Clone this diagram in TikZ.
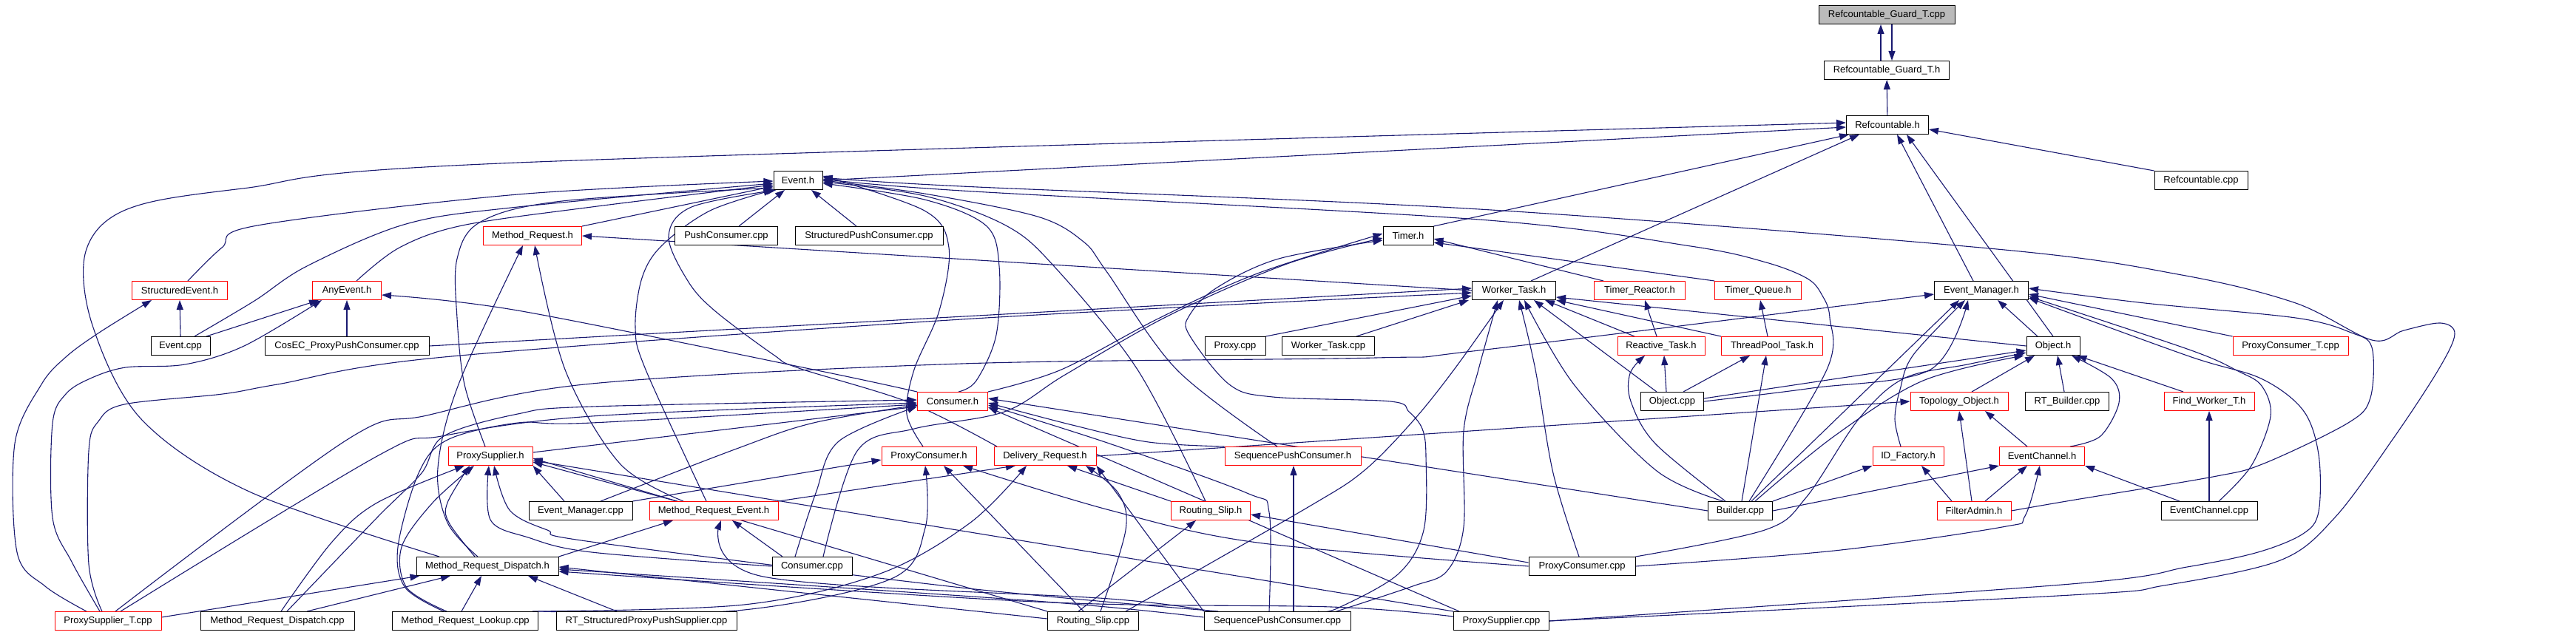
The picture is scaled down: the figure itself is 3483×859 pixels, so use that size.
\documentclass[tikz,border=0pt]{standalone}
\usepackage{fontspec}
\setmainfont{Liberation Sans}
\usetikzlibrary{arrows.meta}
\definecolor{edgecol}{HTML}{191970}
\pgfdeclarelayer{bg}
\pgfsetlayers{bg,main}
\begin{document}
\begin{tikzpicture}[x=1pt,y=-1pt,
  box/.style={draw=black, fill=white, line width=1pt, minimum height=25pt, inner sep=0pt, font=\fontsize{13}{15}\selectfont},
  rbox/.style={box, draw=red},
  gbox/.style={box, fill=black!27},
  edge/.style={draw=edgecol, line width=1.1pt, -{Triangle[length=13pt,width=9pt]}},
  sm/.style={smooth, tension=0.55}
]
\useasboundingbox (0,0) rectangle (3483,859);
% ---------------- nodes ----------------
\node[gbox, minimum width=184pt] (RGTcpp) at (2551,20) {Refcountable\_Guard\_T.cpp};
\node[box, minimum width=169pt] (RGTh) at (2551,95) {Refcountable\_Guard\_T.h};
\node[box, minimum width=111pt] (Refh) at (2552,169) {Refcountable.h};
\node[box, minimum width=66pt] (Eventh) at (1079,244) {Event.h};
\node[box, minimum width=126pt] (Refcpp) at (2976,244) {Refcountable.cpp};
\node[rbox, minimum width=133pt] (MRh) at (720,319) {Method\_Request.h};
\node[box, minimum width=139pt] (PushCcpp) at (982,319) {PushConsumer.cpp};
\node[box, minimum width=200pt] (StPCcpp) at (1175,319) {StructuredPushConsumer.cpp};
\node[box, minimum width=68pt] (Timerh) at (1904,319) {Timer.h};
\node[rbox, minimum width=129pt] (SEh) at (243,393) {StructuredEvent.h};
\node[rbox, minimum width=93pt] (AEh) at (469,393) {AnyEvent.h};
\node[box, minimum width=113pt] (WTh) at (2047,393) {Worker\_Task.h};
\node[rbox, minimum width=123pt] (TRh) at (2217,393) {Timer\_Reactor.h};
\node[rbox, minimum width=117pt] (TQh) at (2377,393) {Timer\_Queue.h};
\node[box, minimum width=127pt] (EMh) at (2679,393) {Event\_Manager.h};
\node[rbox, minimum width=156pt] (PCTcpp) at (3097,468) {ProxyConsumer\_T.cpp};
\node[box, minimum width=80pt] (Eventcpp) at (244,468) {Event.cpp};
\node[box, minimum width=222pt] (CosEC) at (469,468) {CosEC\_ProxyPushConsumer.cpp};
\node[box, minimum width=82pt] (Proxycpp) at (1670,468) {Proxy.cpp};
\node[box, minimum width=125pt] (WTcpp) at (1796,468) {Worker\_Task.cpp};
\node[rbox, minimum width=118pt] (RTh) at (2246,468) {Reactive\_Task.h};
\node[rbox, minimum width=137pt] (TPTh) at (2396,468) {ThreadPool\_Task.h};
\node[box, minimum width=72pt] (Objh) at (2776,468) {Object.h};
\node[rbox, minimum width=95pt] (Consh) at (1288,543) {Consumer.h};
\node[box, minimum width=85pt] (Objcpp) at (2261,543) {Object.cpp};
\node[rbox, minimum width=132pt] (TOh) at (2649,543) {Topology\_Object.h};
\node[box, minimum width=113pt] (RTBcpp) at (2795,543) {RT\_Builder.cpp};
\node[rbox, minimum width=122pt] (FWTh) at (2987,543) {Find\_Worker\_T.h};
\node[rbox, minimum width=114pt] (PSh) at (663,617) {ProxySupplier.h};
\node[rbox, minimum width=128pt] (PCh) at (1256,617) {ProxyConsumer.h};
\node[rbox, minimum width=138pt] (DRh) at (1413,617) {Delivery\_Request.h};
\node[rbox, minimum width=184pt] (SPCh) at (1748,617) {SequencePushConsumer.h};
\node[rbox, minimum width=96pt] (IDFh) at (2580,617) {ID\_Factory.h};
\node[rbox, minimum width=115pt] (ECh) at (2761,617) {EventChannel.h};
\node[box, minimum width=140pt] (EMcpp) at (785,691) {Event\_Manager.cpp};
\node[rbox, minimum width=174pt] (MREh) at (965,691) {Method\_Request\_Event.h};
\node[rbox, minimum width=107pt] (RSh) at (1637,691) {Routing\_Slip.h};
\node[box, minimum width=87pt] (Buildcpp) at (2353,691) {Builder.cpp};
\node[rbox, minimum width=100pt] (FAh) at (2669,691) {FilterAdmin.h};
\node[box, minimum width=130pt] (ECcpp) at (2987,691) {EventChannel.cpp};
\node[box, minimum width=192pt] (MRDh) at (659,766) {Method\_Request\_Dispatch.h};
\node[box, minimum width=108pt] (Conscpp) at (1098,766) {Consumer.cpp};
\node[box, minimum width=144pt] (PCcpp) at (2139,766) {ProxyConsumer.cpp};
\node[rbox, minimum width=144pt] (PSTcpp) at (146,840) {ProxySupplier\_T.cpp};
\node[box, minimum width=208pt] (MRDcpp) at (375,840) {Method\_Request\_Dispatch.cpp};
\node[box, minimum width=197pt] (MRLcpp) at (629,840) {Method\_Request\_Lookup.cpp};
\node[box, minimum width=244pt] (RTSPPS) at (874,840) {RT\_StructuredProxyPushSupplier.cpp};
\node[box, minimum width=123pt] (RScpp) at (1478,840) {Routing\_Slip.cpp};
\node[box, minimum width=198pt] (SPCcpp) at (1727,840) {SequencePushConsumer.cpp};
\node[box, minimum width=129pt] (PScpp) at (2030,840) {ProxySupplier.cpp};
% ---------------- edges ----------------
\begin{pgfonlayer}{bg}
% top
\draw[edge] ([xshift=-8pt]RGTh.north) -- ([xshift=-8pt]RGTcpp.south);
\draw[edge] ([xshift=7pt]RGTcpp.south) -- ([xshift=7pt]RGTh.north);
\draw[edge] (Refh) -- (RGTh);
% into Refcountable.h
\draw[edge] (Eventh.east) -- ([yshift=-3pt]Refh.west);
\draw[edge] plot[sm] coordinates {([xshift=-65pt]MRDh.north) (337,665) (191,567) (125,440) (116,340) (172,283) (328,255) (700,220) ([yshift=3pt]Refh.west)};
\draw[edge] (Timerh.north east) -- ([xshift=4pt]Refh.south west);
\draw[edge] ([xshift=23pt]WTh.north) -- ([xshift=-38pt]Refh.south);
\draw[edge] ([xshift=-11pt]EMh.north) -- ([xshift=13pt]Refh.south);
\draw[edge] (Objh.north) -- ([xshift=26pt]Refh.south);
\draw[edge] (Refcpp.north west) -- ([yshift=-6pt]Refh.east);
% into Event.h
\draw[edge] plot[sm] coordinates {([xshift=11pt]SEh.north) (300,335) (348,305) (700,263) ([yshift=-1pt]Eventh.west)};
\draw[edge] plot[sm] coordinates {([xshift=19pt]Eventcpp.north) (344,407) (415,360) (549,303) (700,280) ([yshift=-4pt]Eventh.west)};
\draw[edge] plot[sm] coordinates {([xshift=13pt]AEh.north) (540,335) (625,305) (800,280) ([yshift=-6pt]Eventh.west)};
\draw[edge] (MRh.north east) -- ([yshift=-8pt]Eventh.west);
\draw[edge] ([xshift=17pt]PushCcpp.north) -- ([xshift=-18pt]Eventh.south);
\draw[edge] ([xshift=-17pt]StPCcpp.north) -- ([xshift=18pt]Eventh.south);
\draw[edge] plot[sm] coordinates {([xshift=-7pt]PSh.north) (628,520) (618,430) (618,350) (650,300) (760,272) ([yshift=-10pt]Eventh.west)};
\draw[edge] plot[sm] coordinates {([xshift=-10pt]MREh.north) (873,500) (859,443) (868,376) (895,332) (960,285) (Eventh.south west)};
\draw[edge] plot[sm] coordinates {([xshift=-65pt]DRh.north) (1231,545) (1080,498) (1046,480) (966,420) (930,380) (904,320) (935,280) ([xshift=4pt]Eventh.south west)};
\draw[edge] plot[sm] coordinates {([xshift=8pt]Consh.north) (1320,515) (1347,453) (1351,360) (1333,305) (1250,270) ([yshift=-4pt]Eventh.east)};
\draw[edge] plot[sm] coordinates {([xshift=-7pt]RSh.north) (1538,500) (1425,360) (1360,305) (1250,265) ([yshift=-2pt]Eventh.east)};
\draw[edge] plot[sm] coordinates {([xshift=-21pt]SPCh.north) (1591,500) (1496,367) (1465,327) (1403,293) (1250,262) (Eventh.east)};
\draw[edge] plot[sm] coordinates {([xshift=12pt]Buildcpp.north) (2470,500) (2474,430) (2464,400) (2444,377) (2388,355) (2286,333) (2000,297) (1300,258) ([yshift=2pt]Eventh.east)};
\draw[edge] plot[sm] coordinates {(PScpp.east) (2800,805) (2926,792) (3083,758) (3157,700) (3236,593) (3297,500) (3319,452) (3300,437) (3250,447) (3207,460) (3104,410) (2950,372) (2700,337) (2000,283) (1300,252) ([yshift=4pt]Eventh.east)};
\draw[edge] plot[sm] coordinates {([xshift=-8pt]PCh.north) (1226,560) (1236,500) (1270,420) (1283,335) (1250,285) ([yshift=6pt]Eventh.east)};
% StructuredEvent.h / AnyEvent.h
\draw[edge] (Eventcpp.north) -- (SEh.south);
\draw[edge] ([xshift=35pt]Eventcpp.north) -- ([xshift=-38pt]AEh.south);
\draw[edge] (CosEC.north) -- (AEh.south);
\draw[edge] plot[sm] coordinates {([xshift=-29pt]PSTcpp.north) (61,793) (23,747) (20,600) (56,520) (89,483) (134,450) ([xshift=-38pt]SEh.south)};
\draw[edge] plot[sm] coordinates {([xshift=-11pt]PSTcpp.north) (97,760) (71,700) (71,573) (89,533) (122,512) (170,497) (250,493) (330,468) ([xshift=-34pt]AEh.south)};
\draw[edge] plot[sm] coordinates {(Consh.north west) (1100,500) (700,420) ([yshift=-6pt]AEh.east)};
% Method_Request.h
\draw[edge] (WTh.west) -- (MRh.east);
\draw[edge] plot[sm] coordinates {([xshift=-13pt]MRDh.north) (605,707) (592,633) (620,520) ([xshift=-13pt]MRh.south)};
\draw[edge] plot[sm] coordinates {([xshift=-41pt]MREh.north) (838,627) (764,500) ([xshift=3pt]MRh.south)};
% Timer.h
\draw[edge] ([xshift=-49pt]TRh.north) -- ([yshift=-4pt]Timerh.east);
\draw[edge] (TQh.north west) -- ([yshift=-9pt]Timerh.east);
\draw[edge] plot[sm] coordinates {(Consh.north east) (1435,500) (1568,430) (1700,370) ([yshift=3pt]Timerh.west)};
\draw[edge] plot[sm] coordinates {([xshift=15pt]Conscpp.north) (1159,610) (1236,580) (1358,557) (1440,507) (1580,427) (1740,357) ([yshift=-3pt]Timerh.west)};
\draw[edge] plot[sm] coordinates {([xshift=55pt]SPCcpp.north) (1808,823) (1890,777) (1925,717) (1928,617) (1923,580) (1905,557) (1880,543) (1721,537) (1662,520) (1608,453) (1608,427) (1644,390) (1729,350) ([yshift=-6pt]Timerh.west)};
% Worker_Task.h
\draw[edge] (CosEC.east) -- ([yshift=3pt]WTh.west);
\draw[edge] plot[sm] coordinates {([xshift=-8pt]PSTcpp.north) (120,763) (120,610) (133,570) (168,547) (301,533) (375,520) (600,483) (1300,432) ([yshift=-3pt]WTh.west)};
\draw[edge] (Proxycpp.north east) -- ([yshift=-7pt]WTh.west);
\draw[edge] ([xshift=38pt]WTcpp.north) -- ([xshift=-4pt]WTh.south west);
\draw[edge] ([xshift=-36pt]RTh.north) -- ([xshift=42pt]WTh.south);
\draw[edge] (TPTh.north west) -- (WTh.south east);
\draw[edge] (Objh.west) -- ([yshift=-9pt]WTh.east);
\draw[edge] ([xshift=-21pt]Objcpp.north) -- ([xshift=27pt]WTh.south);
\draw[edge] plot[sm] coordinates {([xshift=-23pt]Buildcpp.north) (2240,637) (2128,520) ([xshift=14pt]WTh.south)};
\draw[edge] plot[sm] coordinates {([xshift=44pt]RScpp.north) (1767,687) (1844,637) (1910,570) (1966,500) ([xshift=-14pt]WTh.south)};
\draw[edge] plot[sm] coordinates {([xshift=80pt]SPCcpp.north) (1910,793) (1956,773) (1979,713) (1979,583) (1999,500) ([xshift=-22pt]WTh.south)};
\draw[edge] plot[sm] coordinates {([xshift=-4pt]PCcpp.north) (2100,640) (2076,500) ([xshift=7pt]WTh.south)};
% Reactive / ThreadPool
\draw[edge] ([xshift=-6pt]RTh.north) -- ([xshift=7pt]TRh.south);
\draw[edge] ([xshift=-6pt]TPTh.north) -- ([xshift=3pt]TQh.south);
\draw[edge] ([xshift=-8pt]Objcpp.north) -- ([xshift=4pt]RTh.south);
\draw[edge] plot[sm] coordinates {([xshift=-20pt]Buildcpp.north) (2238,600) (2205,543) (2204,505) ([xshift=-22pt]RTh.south)};
\draw[edge] ([xshift=15pt]Objcpp.north) -- ([xshift=-30pt]TPTh.south);
\draw[edge] ([xshift=2pt]Buildcpp.north) -- ([xshift=-8pt]TPTh.south);
% Event_Manager.h
\draw[edge] plot[sm] coordinates {([xshift=10pt]PSTcpp.north) (469,595) (577,562) (800,519) (1300,492) (1860,484) (2000,474) ([yshift=-5pt]EMh.west)};
\draw[edge] ([xshift=-21pt]Objh.north) -- ([xshift=22pt]EMh.south);
\draw[edge] plot[sm] coordinates {(Objcpp.east) (2450,525) (2610,500) ([xshift=-18pt]EMh.south)};
\draw[edge] ([xshift=15pt]Buildcpp.north) -- ([xshift=-30pt]EMh.south);
\draw[edge] (PCTcpp.north west) -- ([yshift=-5pt]EMh.east);
\draw[edge] plot[sm] coordinates {([xshift=13pt]ECcpp.north) (3044,630) (3070,563) (3058,522) (3026,502) (2960,473) ([yshift=-8pt]EMh.east)};
\draw[edge] plot[sm] coordinates {(FAh.east) (2800,677) (2992,645) (3061,627) (3175,572) (3205,538) (3207,470) (3179,450) (3104,430) (2900,410) ([yshift=3pt]EMh.east)};
\draw[edge] plot[sm] coordinates {(PScpp.east) (2800,790) (2957,767) (3053,747) (3114,722) (3135,692) (3135,615) (3114,555) (3057,512) (2960,482) ([yshift=-10pt]EMh.east)};
\draw[edge] plot[sm] coordinates {([xshift=-10pt]IDFh.north) (2562,567) (2569,527) (2587,480) ([xshift=-22pt]EMh.south)};
% Object.h
\draw[edge] ([yshift=4pt]Objcpp.east) -- ([yshift=-6pt]Objh.west);
\draw[edge] plot[sm] coordinates {([xshift=20pt]Buildcpp.north) (2480,590) (2600,515) ([xshift=-3pt]Objh.south west)};
\draw[edge] ([xshift=17pt]TOh.north) -- ([xshift=-25pt]Objh.south);
\draw[edge] ([xshift=-4pt]RTBcpp.north) -- ([xshift=6pt]Objh.south);
\draw[edge] ([xshift=-35pt]FWTh.north) -- ([xshift=-4pt]Objh.south east);
\draw[edge] plot[sm] coordinates {([xshift=38pt]ECh.north) (2840,590) (2865,545) (2855,512) ([xshift=25pt]Objh.south)};
\draw[edge] plot[sm] coordinates {(PCcpp.north east) (2386,717) (2442,673) (2513,567) (2574,512) (2660,493) ([yshift=-9pt]Objh.west)};
% EventChannel / Topology / ID_Factory
\draw[edge] ([xshift=-40pt]ECcpp.north) -- (ECh.south east);
\draw[edge] (ECcpp.north) -- (FWTh.south);
\draw[edge] plot[sm] coordinates {(PCcpp.east) (2480,745) (2707,713) (2738,698) ([xshift=-3pt]ECh.south)};
\draw[edge] (Buildcpp.north east) -- (IDFh.south west);
\draw[edge] (Buildcpp.east) -- (ECh.south west);
\draw[edge] ([xshift=-30pt]FAh.north) -- ([xshift=18pt]IDFh.south);
\draw[edge] ([xshift=-3pt]FAh.north) -- (TOh.south);
\draw[edge] ([xshift=15pt]FAh.north) -- ([xshift=-20pt]ECh.south);
\draw[edge] ([xshift=-20pt]ECh.north) -- ([xshift=35pt]TOh.south);
\draw[edge] (DRh.east) -- (TOh.west);
% Consumer.h
\draw[edge] plot[sm] coordinates {([xshift=27pt]EMcpp.north) (996,607) (1100,572) ([yshift=-5pt]Consh.west)};
\draw[edge] ([yshift=5pt]PSh.east) -- ([yshift=-7pt]Consh.west);
\draw[edge] plot[sm] coordinates {([xshift=17pt]PSTcpp.north) (510,617) (597,590) (800,563) ([yshift=-2pt]Consh.west)};
\draw[edge] plot[sm] coordinates {([xshift=13pt]MRDcpp.north) (510,700) (570,640) (600,590) (700,560) (800,550) ([yshift=2pt]Consh.west)};
\draw[edge] plot[sm] coordinates {([xshift=-29pt]MRLcpp.north) (548,795) (538,740) (566,640) (605,595) (700,572) (800,572) ([yshift=-4pt]Consh.west)};
\draw[edge] plot[sm] coordinates {([xshift=-23pt]Conscpp.north) (1103,667) (1134,597) ([yshift=-7pt]Consh.west)};
\draw[edge] plot[sm] coordinates {(SPCh.north west) (1553,598) (1450,575) ([yshift=-2pt]Consh.east)};
\draw[edge] plot[sm] coordinates {([xshift=-11pt]SPCcpp.north) (1716,693) (1686,667) (1500,600) ([yshift=-5pt]Consh.east)};
\draw[edge] ([xshift=8pt]PScpp.north west) -- ([yshift=-8pt]Consh.east);
\draw[edge] (Buildcpp.west) -- ([yshift=4pt]Consh.east);
% ProxySupplier.h
\draw[edge] plot[sm] coordinates {([xshift=-17pt]MRDh.north) (607,707) (605,680) ([xshift=-28pt]PSh.south)};
\draw[edge] plot[sm] coordinates {([xshift=5pt]MRDcpp.north) (449,733) (510,680) ([xshift=-35pt]PSh.south)};
\draw[edge] plot[sm] coordinates {([xshift=-25pt]MRLcpp.north) (550,795) (543,740) (585,680) ([xshift=-22pt]PSh.south)};
\draw[edge] ([xshift=-22pt]EMcpp.north) -- (PSh.south east);
\draw[edge] ([xshift=-50pt]MREh.north) -- ([yshift=-8pt]PSh.east);
\draw[edge] (RScpp.north west) -- ([yshift=-3pt]PSh.east);
\draw[edge] plot[sm] coordinates {(Conscpp.west) (800,747) (714,727) (663,703) ([xshift=-2pt]PSh.south)};
\draw[edge] plot[sm] coordinates {([xshift=-80pt]SPCcpp.north) (1300,795) (800,733) (740,717) (689,690) ([xshift=5pt]PSh.south)};
\draw[edge] (PScpp.north west) -- ([yshift=-6pt]PSh.east);
% ProxyConsumer.h
\draw[edge] (EMcpp.north east) -- ([yshift=-5pt]PCh.west);
\draw[edge] plot[sm] coordinates {(MRLcpp.north east) (996,826) (1205,783) (1251,714) ([xshift=-5pt]PCh.south)};
\draw[edge] ([xshift=-13pt]RScpp.north) -- ([xshift=20pt]PCh.south);
\draw[edge] plot[sm] coordinates {(PCcpp.west) (1700,734) (1500,690) ([xshift=46pt]PCh.south)};
% Delivery_Request.h
\draw[edge] (MREh.north east) -- ([xshift=-40pt]DRh.south);
\draw[edge] (RSh.north west) -- ([xshift=30pt]DRh.south);
\draw[edge] plot[sm] coordinates {([xshift=10pt]RScpp.north) (1522,717) (1512,667) ([xshift=55pt]DRh.south)};
\draw[edge] (SPCcpp.north west) -- (DRh.south east);
\draw[edge] plot[sm] coordinates {([xshift=-8pt]MRLcpp.north east) (1006,818) (1190,776) (1312,707) ([xshift=-25pt]DRh.south)};
% Method_Request_Event.h
\draw[edge] (MRDh.north east) -- ([xshift=-55pt]MREh.south);
\draw[edge] ([xshift=-40pt]Conscpp.north) -- ([xshift=25pt]MREh.south);
\draw[edge] plot[sm] coordinates {([xshift=-90pt]SPCcpp.north) (1500,810) (1032,780) ([xshift=10pt]MREh.south)};
% Routing_Slip.h / SequencePushConsumer.h
\draw[edge] ([xshift=-20pt]RScpp.north) -- ([xshift=-20pt]RSh.south);
\draw[edge] ([yshift=5pt]PCcpp.west) -- ([yshift=-5pt]RSh.east);
\draw[edge] ([xshift=22pt]SPCcpp.north) -- ([xshift=1pt]SPCh.south);
% Method_Request_Dispatch.h
\draw[edge] ([yshift=5pt]PSTcpp.east) -- ([xshift=5pt]MRDh.south west);
\draw[edge] ([xshift=40pt]MRDcpp.north) -- ([xshift=-50pt]MRDh.south);
\draw[edge] ([xshift=-5pt]MRLcpp.north) -- ([xshift=-8pt]MRDh.south);
\draw[edge] ([xshift=-40pt]RTSPPS.north) -- ([xshift=55pt]MRDh.south);
\draw[edge] ([yshift=3pt]RScpp.west) -- ([yshift=-1pt]MRDh.east);
\draw[edge] plot[sm] coordinates {([yshift=5pt]SPCcpp.west) (1400,813) ([yshift=-4pt]MRDh.east)};
\draw[edge] plot[sm] coordinates {([yshift=6pt]PScpp.west) (1800,821) (1400,814) ([yshift=-7pt]MRDh.east)};
\end{pgfonlayer}
\end{tikzpicture}
\end{document}
